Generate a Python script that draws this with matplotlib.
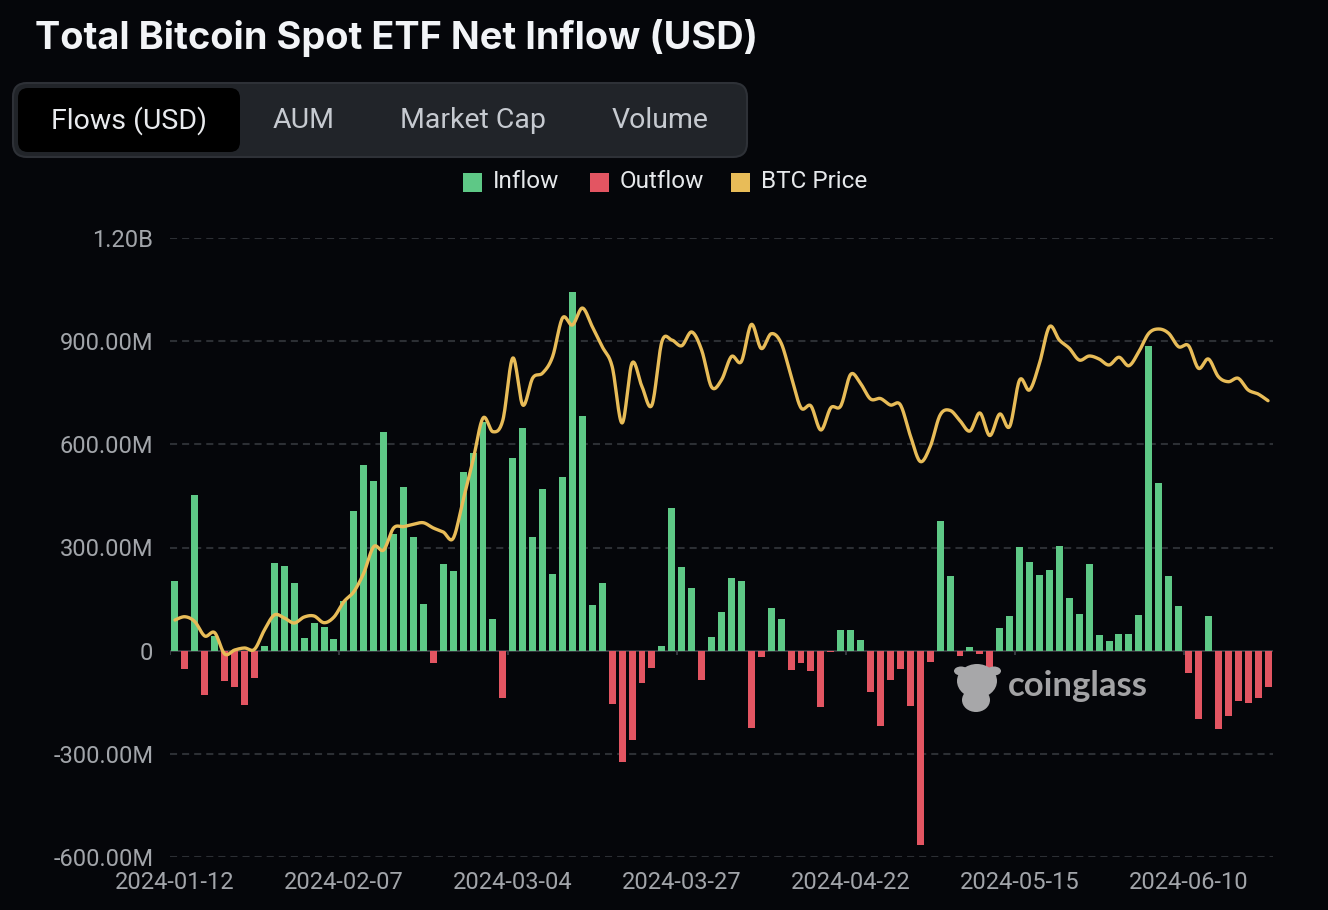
import numpy as np
import matplotlib
matplotlib.use("Agg")
import matplotlib.pyplot as plt
from matplotlib.patches import FancyBboxPatch, Rectangle, Ellipse

# net flows per trading day, millions of USD (2024-01-12 .. 2024-06-20)
flows = [202, -53, 453, -128, 44, -88, -106, -159, -80, 15, 255, 247, 196, 38, 79, 68, 33, 145,
         405, 541, 493, 635, 340, 476, 330, 136, -36, 251, 232, 519, 576, 666, 92, -139, 561, 648,
         331, 471, 223, 504, 1043, 682, 132, 197, -154, -325, -261, -94, -51, 15, 416, 243, 182,
         -85, 39, 112, 211, 202, -225, -19, 124, 91, -55, -37, -58, -165, -3, 59, 61, 31, -121,
         -218, -84, -52, -161, -564, -34, 377, 217, -15, 11, -11, -85, 66, 100, 302, 257, 221,
         236, 305, 153, 107, 252, 45, 28, 48, 48, 105, 886, 488, 218, 131, -65, -200, 100, -227,
         -190, -145, -152, -139, -106]

# BTC price, thousands of USD
btc_price = [42.97, 43.29, 42.81, 41.42, 41.74, 39.68, 40.06, 40.26, 40.13, 42.0,
             43.46, 43.17, 42.68, 43.26, 43.36, 42.71, 43.26, 44.75, 45.72, 47.53,
             50.08, 49.76, 51.89, 52.02, 52.25, 52.40, 51.89, 51.5, 50.89, 54.60,
             58.48, 62.55, 61.22, 62.36, 68.37, 63.81, 66.43, 66.91, 68.49, 72.25,
             71.57, 73.21, 71.40, 69.46, 67.53, 62.07, 67.88, 65.59, 63.81, 69.95,
             70.11, 69.56, 70.89, 69.14, 65.56, 66.24, 68.51, 68.03, 71.62, 69.29,
             70.72, 69.82, 66.62, 63.54, 63.72, 61.39, 63.54, 63.72, 66.78, 65.88,
             64.39, 64.44, 63.81, 63.83, 60.85, 58.34, 59.77, 62.84, 63.29, 62.29,
             61.29, 63.04, 60.85, 62.94, 61.73, 66.24, 65.27, 67.85, 71.40, 70.11,
             69.31, 68.17, 68.56, 68.27, 67.69, 68.44, 67.62, 68.98, 70.76, 71.18,
             70.76, 69.46, 69.56, 67.37, 68.27, 66.56, 66.07, 66.40, 65.27, 64.88, 64.23]

date_labels = ["2024-01-12", "2024-02-07", "2024-03-04", "2024-03-27",
               "2024-04-22", "2024-05-15", "2024-06-10"]
label_every = 17

y_ticks = [-600, -300, 0, 300, 600, 900, 1200]
y_tick_labels = ["-600.00M", "-300.00M", "0", "300.00M", "600.00M", "900.00M", "1.20B"]

tabs = ["Flows (USD)", "AUM", "Market Cap", "Volume"]

BG = "#05060a"
GREEN = "#5ec886"
RED = "#e35562"
GOLD = "#e8bc58"
GRID = "#2c2f34"
TICK = "#a2a5aa"
FONT = ["Roboto", "DejaVu Sans"]


def catmull_rom(x, y, n=16):
    x = np.asarray(x, float)
    y = np.asarray(y, float)
    px = np.concatenate([[x[0]], x, [x[-1]]])
    py = np.concatenate([[y[0]], y, [y[-1]]])
    t = np.linspace(0, 1, n, endpoint=False)
    xs, ys = [], []
    for i in range(1, len(px) - 2):
        for p, out in ((px, xs), (py, ys)):
            p0, p1, p2, p3 = p[i - 1], p[i], p[i + 1], p[i + 2]
            out.extend(0.5 * (2 * p1 + (-p0 + p2) * t + (2 * p0 - 5 * p1 + 4 * p2 - p3) * t ** 2
                              + (-p0 + 3 * p1 - 3 * p2 + p3) * t ** 3))
    xs.append(x[-1])
    ys.append(y[-1])
    return np.array(xs), np.array(ys)


W, H = 1328, 910
fig = plt.figure(figsize=(W / 100, H / 100), dpi=100)
fig.patch.set_facecolor(BG)

# overlay in pixel coordinates for title, tabs, legend, watermark
ov = fig.add_axes([0, 0, 1, 1], zorder=0)
ov.set_xlim(0, W)
ov.set_ylim(H, 0)
ov.axis("off")

ov.text(35, 38, "Total Bitcoin Spot ETF Net Inflow (USD)", fontsize=27.3, fontweight="bold",
        family=["Inter", "DejaVu Sans"], color="#f2f4f7", va="center", ha="left")

ov.add_patch(FancyBboxPatch((13, 83), 734, 74, boxstyle="round,pad=0,rounding_size=14",
                            fc="#212429", ec="#2e3137", lw=1.5))
ov.add_patch(FancyBboxPatch((18, 88), 222, 64, boxstyle="round,pad=0,rounding_size=10",
                            fc="#000000", ec="none"))
tab_x = [129, 304, 473, 660]
for name, tx in zip(tabs, tab_x):
    ov.text(tx, 121, name, fontsize=20.5, family=FONT,
            color="#e9ebee" if name == tabs[0] else "#c6cad0", ha="center", va="center")

legend_items = [("Inflow", GREEN, 463), ("Outflow", RED, 590), ("BTC Price", GOLD, 731)]
for name, col, lx in legend_items:
    ov.add_patch(Rectangle((lx, 173), 19, 19, fc=col, ec="none"))
    ov.text(lx + 30, 182, name, fontsize=17.5, family=FONT,
            color="#e6e8eb", ha="left", va="center")

# main chart
x = np.arange(len(flows))
ax = fig.add_axes([170 / W, 1 - 857 / H, (1273 - 170) / W, (857 - 238) / H], zorder=2)
ax.set_facecolor("none")
ax.set_xlim(-0.5, len(flows) - 0.5)
ax.set_ylim(-600, 1200)

for yv in y_ticks:
    if yv != 0:
        ax.axhline(yv, color=GRID, lw=1.5, ls=(0, (3.4, 2.4)), zorder=0)

colors = [GREEN if v >= 0 else RED for v in flows]
ax.bar(x, flows, width=0.7, color=colors, zorder=2)
ax.axhline(0, color="#3a3d43", lw=1.3, zorder=1)
ax.vlines(np.arange(-0.5, len(flows), label_every), -14, 0, color="#3a3d43", lw=1.3)

ax.set_yticks(y_ticks)
ax.set_yticklabels(y_tick_labels)
ax.set_xticks(np.arange(0, len(flows), label_every)[:len(date_labels)])
ax.set_xticklabels(date_labels)
ax.tick_params(axis="y", length=0, pad=12, labelsize=17, labelcolor=TICK)
ax.tick_params(axis="x", length=0, pad=10, labelsize=17, labelcolor=TICK)
for lab in ax.get_xticklabels() + ax.get_yticklabels():
    lab.set_family(FONT)
for s in ax.spines.values():
    s.set_visible(False)

ax2 = ax.twinx()
ax2.set_ylim(20, 80)
ax2.axis("off")
sx, sy = catmull_rom(x, btc_price)
ax2.plot(sx, sy, color=GOLD, lw=2.4, solid_capstyle="round", zorder=3)

# watermark
wm = fig.add_axes([0, 0, 1, 1], zorder=3)
wm.set_xlim(0, W)
wm.set_ylim(H, 0)
wm.axis("off")
wm_col = "#a7a7a9"
wm.add_patch(Ellipse((977, 681), 40, 34, fc=wm_col, ec="none"))
wm.add_patch(Ellipse((976, 700), 28, 24, fc=wm_col, ec="none"))
wm.add_patch(Ellipse((961, 671), 14, 9, fc=wm_col, ec="none"))
wm.add_patch(Ellipse((994, 671), 14, 9, fc=wm_col, ec="none"))
wm.text(1008, 686, "coinglass", fontsize=25, fontweight="bold", family=["Lato", "DejaVu Sans"],
        color="#a3a3a5", ha="left", va="center")

fig.savefig("out.png", dpi=100, facecolor=BG)
